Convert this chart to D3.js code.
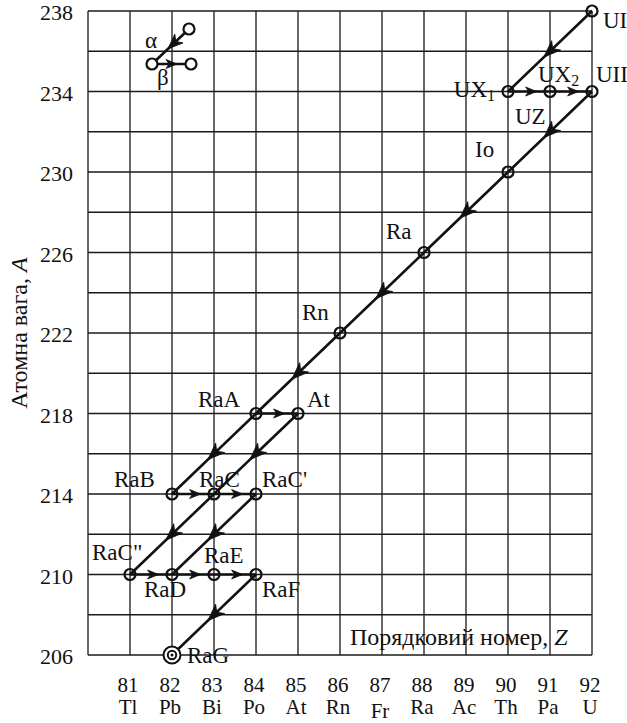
<!DOCTYPE html>
<html>
<head>
<meta charset="utf-8">
<script src="https://cdn.jsdelivr.net/npm/d3@7"></script>
<style>
  html, body { margin: 0; padding: 0; background: #fff; }
  svg { display: block; }
  text { font-family: "Liberation Serif", "Times New Roman", serif; fill: #111; }
</style>
</head>
<body>
<svg id="chart" width="627" height="723"></svg>
<script>
// Uranium–radium decay series on the (Z, A) plane
const nuclideNames = ["UI", "UX1", "UX2", "UII", "Io", "Ra", "Rn", "RaA", "At", "RaB", "RaC", "RaC'", "RaC''", "RaD", "RaE", "RaF", "RaG"];
const nuclideZ     = [92, 90, 91, 92, 90, 88, 86, 84, 85, 82, 83, 84, 81, 82, 83, 84, 82];
const nuclideA     = [238, 234, 234, 234, 230, 226, 222, 218, 218, 214, 214, 214, 210, 210, 210, 210, 206];

const alphaDecays = [["UI", "UX1"], ["UII", "Io"], ["Io", "Ra"], ["Ra", "Rn"], ["Rn", "RaA"],
                     ["RaA", "RaB"], ["At", "RaC"], ["RaC", "RaC''"], ["RaC'", "RaD"], ["RaF", "RaG"]];
const betaDecays  = [["UX1", "UX2"], ["UX2", "UII"], ["RaA", "At"], ["RaB", "RaC"], ["RaC", "RaC'"],
                     ["RaC''", "RaD"], ["RaD", "RaE"], ["RaE", "RaF"]];

const zTicks = [81, 82, 83, 84, 85, 86, 87, 88, 89, 90, 91, 92];
const elementSymbols = ["Tl", "Pb", "Bi", "Po", "At", "Rn", "Fr", "Ra", "Ac", "Th", "Pa", "U"];
const aTicks = [206, 210, 214, 218, 222, 226, 230, 234, 238];

// label placement around each node (pixel offsets from the node)
const labelStyle = {
  "UI":    { t: "UI",   dx: 11,  dy: 17 },
  "UX1":   { t: "UX", sub: "1", dx: -13, dy: 5, end: true },
  "UX2":   { t: "UX", sub: "2", dx: -12, dy: -10 },
  "UII":   { t: "UII",  dx: 4,   dy: -10 },
  "Io":    { t: "Io",   dx: -33, dy: -15 },
  "Ra":    { t: "Ra",   dx: -38, dy: -14 },
  "Rn":    { t: "Rn",   dx: -38, dy: -13 },
  "RaA":   { t: "RaA",  dx: -58, dy: -7 },
  "At":    { t: "At",   dx: 9,   dy: -7 },
  "RaB":   { t: "RaB",  dx: -58, dy: -7 },
  "RaC":   { t: "RaC",  dx: -15, dy: -7 },
  "RaC'":  { t: "RaC'", dx: 6,   dy: -7 },
  "RaC''": { t: "RaC\"", dx: -38, dy: -15 },
  "RaD":   { t: "RaD",  dx: -28, dy: 22 },
  "RaE":   { t: "RaE",  dx: -10, dy: -12 },
  "RaF":   { t: "RaF",  dx: 6,   dy: 22 },
  "RaG":   { t: "RaG",  dx: 15,  dy: 8 }
};

const svg = d3.select("#chart");
const x = d3.scaleLinear().domain([80, 92]).range([88, 592]);
const y = d3.scaleLinear().domain([206, 238]).range([655, 11]);

const pos = {};
nuclideNames.forEach((n, i) => { pos[n] = [x(nuclideZ[i]), y(nuclideA[i])]; });

// grid
const grid = svg.append("g").attr("stroke", "#1a1a1a").attr("stroke-width", 1.3);
grid.selectAll("line.v").data(d3.range(80, 93)).join("line")
  .attr("x1", d => x(d)).attr("x2", d => x(d)).attr("y1", y(238)).attr("y2", y(206));
grid.selectAll("line.h").data(d3.range(206, 239, 2)).join("line")
  .attr("y1", d => y(d)).attr("y2", d => y(d)).attr("x1", x(80)).attr("x2", x(92));

// Y axis tick labels
svg.append("g").selectAll("text").data(aTicks).join("text")
  .attr("x", 73).attr("y", d => y(d) + 9)
  .attr("text-anchor", "end").attr("font-size", 22).text(d => d);

// X axis tick labels: atomic number and element symbol
const xl = svg.append("g").attr("font-size", 21).attr("text-anchor", "middle");
xl.selectAll("text.z").data(zTicks).join("text").attr("class", "z")
  .attr("x", d => x(d) - 2).attr("y", 692).text(d => d);
xl.selectAll("text.s").data(zTicks).join("text").attr("class", "s")
  .attr("x", d => x(d) - 2)
  .attr("y", (d, i) => elementSymbols[i] === "Fr" ? 718 : 714)
  .text((d, i) => elementSymbols[i]);

// axis titles
const yt = svg.append("text").attr("font-size", 24).attr("text-anchor", "middle")
  .attr("transform", "translate(27,333) rotate(-90)");
yt.append("tspan").text("Атомна вага, ");
yt.append("tspan").attr("font-style", "italic").text("A");

const xt = svg.append("text").attr("font-size", 24).attr("x", 350).attr("y", 645);
xt.append("tspan").text("Порядковий номер, ");
xt.append("tspan").attr("font-style", "italic").text("Z");

// arrowhead path: tip at origin pointing along +x
function headPath(L, W, notch) {
  return `M0,0 L${-L},${-W / 2} L${-L * notch},0 L${-L},${W / 2} Z`;
}
function drawArrow(g, p0, p1, L, W, frac) {
  g.append("line")
    .attr("x1", p0[0]).attr("y1", p0[1]).attr("x2", p1[0]).attr("y2", p1[1])
    .attr("stroke", "#111").attr("stroke-width", 2.6);
  const dxv = p1[0] - p0[0], dyv = p1[1] - p0[1];
  const len = Math.hypot(dxv, dyv);
  const ang = Math.atan2(dyv, dxv) * 180 / Math.PI;
  const t = frac + (L / 2) / len;
  g.append("path")
    .attr("d", headPath(L, W, 0.72))
    .attr("fill", "#111").attr("stroke", "#111").attr("stroke-width", 0.8)
    .attr("stroke-linejoin", "miter")
    .attr("transform", `translate(${p0[0] + dxv * t},${p0[1] + dyv * t}) rotate(${ang})`);
}

const chain = svg.append("g");
alphaDecays.forEach(([a, b]) => drawArrow(chain, pos[a], pos[b], 17, 13, 0.5));
betaDecays.forEach(([a, b]) => drawArrow(chain, pos[a], pos[b], 11, 9, 0.55));

// nodes
const nodes = svg.append("g");
nuclideNames.forEach(n => {
  const [px, py] = pos[n];
  if (n === "RaG") {
    nodes.append("circle").attr("cx", px).attr("cy", py).attr("r", 8.5)
      .attr("fill", "#fff").attr("stroke", "#111").attr("stroke-width", 2);
    nodes.append("circle").attr("cx", px).attr("cy", py).attr("r", 4.2)
      .attr("fill", "none").attr("stroke", "#111").attr("stroke-width", 2);
    nodes.append("circle").attr("cx", px).attr("cy", py).attr("r", 1.5).attr("fill", "#111");
  } else {
    nodes.append("circle").attr("cx", px).attr("cy", py).attr("r", 5.5)
      .attr("fill", "none").attr("stroke", "#111").attr("stroke-width", 2.2);
  }
});

// node labels
const labels = svg.append("g").attr("font-size", 23);
nuclideNames.forEach(n => {
  const s = labelStyle[n];
  const [px, py] = pos[n];
  const t = labels.append("text").attr("x", px + s.dx).attr("y", py + s.dy)
    .attr("text-anchor", s.end ? "end" : "start");
  t.append("tspan").text(s.t);
  if (s.sub) t.append("tspan").attr("font-size", 16).attr("dy", 4).text(s.sub);
});
// UZ is an isomer sharing the UX2 position
labels.append("text").attr("x", pos["UX2"][0] - 35).attr("y", pos["UX2"][1] + 32).text("UZ");

// legend: α and β transitions
const leg = svg.append("g");
const lA = [189, 29], lB = [152, 64], lC = [191, 64];
drawArrow(leg, lA, lB, 15, 12, 0.42);
drawArrow(leg, lB, lC, 11, 9, 0.5);
[lA, lB, lC].forEach(p => leg.append("circle").attr("cx", p[0]).attr("cy", p[1]).attr("r", 5.5)
  .attr("fill", "#fff").attr("stroke", "#111").attr("stroke-width", 2.2));
leg.append("text").attr("x", 145).attr("y", 48).attr("font-size", 23).text("α");
leg.append("text").attr("x", 157).attr("y", 85).attr("font-size", 23).text("β");
</script>
</body>
</html>
